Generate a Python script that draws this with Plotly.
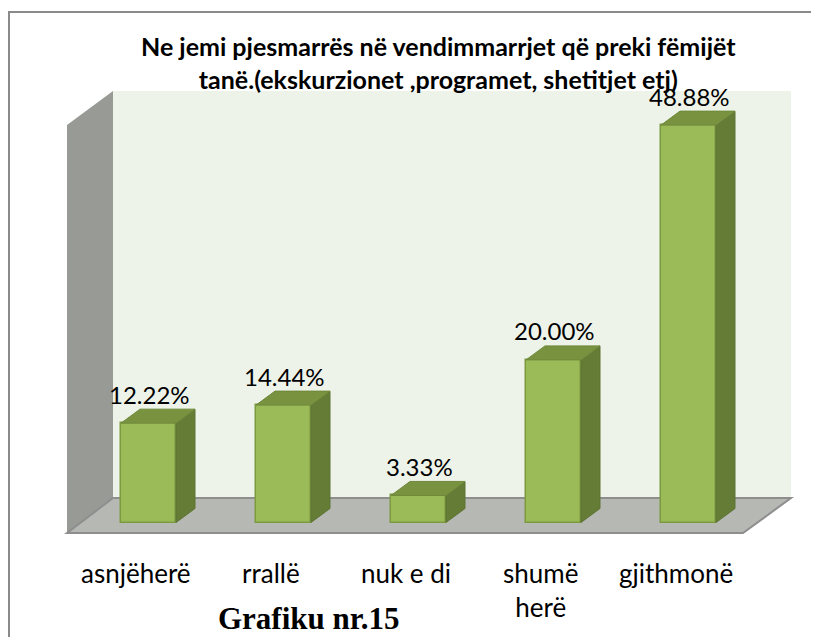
import plotly.graph_objects as go

# ---- data ----
categories = ["asnjëherë", "rrallë", "nuk e di", "shumë<br>herë", "gjithmonë"]
values = [12.22, 14.44, 3.33, 20.00, 48.88]
value_labels = ["12.22%", "14.44%", "3.33%", "20.00%", "48.88%"]
title_text = "Ne jemi pjesmarrës në vendimmarrjet që preki fëmijët<br>tanë.(ekskurzionet ,programet, shetitjet etj)"
caption_text = "Grafiku nr.15"

# ---- layout geometry (target screen pixels) ----
SW, SH = 819, 637
OFF = 8              # page body margin
W, H = SW - OFF, SH - OFF
CAT0_PX = 148.5      # screen x of first category centre
CAT_STEP = 135.0     # pixels per category
ZERO_PY = 522.5      # screen y of value 0
PX_PER_UNIT = 8.13   # pixels per percent

xr0 = -(CAT0_PX - OFF) / CAT_STEP
xr1 = xr0 + W / CAT_STEP
yr0 = -(SH - ZERO_PY) / PX_PER_UNIT
yr1 = yr0 + H / PX_PER_UNIT


def dx(px):
    return px / CAT_STEP


def dy(px):
    return px / PX_PER_UNIT


def X(px):
    return xr0 + (px - OFF) / CAT_STEP


def Y(py):
    return yr0 + (SH - py) / PX_PER_UNIT


def PX(px):
    return (px - OFF) / W


def PY(py):
    return 1 - (py - OFF) / H


bar_w = dx(55)
depth_x = dx(19)
depth_y = dy(14)

FRONT = "#9BBB59"
EDGE = "#7C9A40"
SIDE = "#657C37"
TOP = "#78923F"

fig = go.Figure()

side_x, side_y, top_x, top_y = [], [], [], []
for i, v in enumerate(values):
    xl = i - bar_w / 2
    xr = i + bar_w / 2
    side_x += [xr, xr + depth_x, xr + depth_x, xr, xr, None]
    side_y += [0, depth_y, v + depth_y, v, 0, None]
    top_x += [xl, xr, xr + depth_x, xl + depth_x, xl, None]
    top_y += [v, v, v + depth_y, v + depth_y, v, None]

fig.add_trace(go.Bar(
    x=list(range(len(values))), y=values, width=bar_w,
    marker=dict(color=FRONT, line=dict(color=EDGE, width=1.5)),
    hoverinfo="skip", showlegend=False,
))
fig.add_trace(go.Scatter(
    x=side_x, y=side_y, mode="lines", fill="toself", fillcolor=SIDE,
    line=dict(color="#5E7434", width=1), hoverinfo="skip", showlegend=False,
))
fig.add_trace(go.Scatter(
    x=top_x, y=top_y, mode="lines", fill="toself", fillcolor=TOP,
    line=dict(color="#6F893C", width=1), hoverinfo="skip", showlegend=False,
))


def path(points):
    return "M " + " L ".join(f"{X(a)},{Y(b)}" for a, b in points) + " Z"


shapes = [
    dict(type="path", xref="x", yref="y", layer="below",
         path=path([(113, 91), (791, 91), (791, 498), (113, 498)]),
         fillcolor="#EEF3EA", line=dict(width=0)),
    dict(type="path", xref="x", yref="y", layer="below",
         path=path([(67, 125), (113, 91), (113, 498), (67, 533)]),
         fillcolor="#989A96", line=dict(width=0)),
    dict(type="path", xref="x", yref="y", layer="below",
         path=path([(67, 533), (113, 498), (791, 498), (743, 533)]),
         fillcolor="#B6B8B4", line=dict(color="#8E8E8E", width=2)),
    dict(type="rect", xref="paper", yref="paper",
         x0=PX(9), x1=1.2, y0=-0.2, y1=PY(12),
         line=dict(color="#8A8A8A", width=2), fillcolor="rgba(0,0,0,0)"),
]

annotations = []
for i, (v, lab) in enumerate(zip(values, value_labels)):
    annotations.append(dict(
        x=i, y=v, xref="x", yref="y", text=lab, showarrow=False,
        yanchor="middle", yshift=29, xshift=1,
        font=dict(family="Lato", size=24, color="#000000"),
    ))
for i, c in enumerate(categories):
    annotations.append(dict(
        x=i, y=Y(555), xref="x", yref="y", text=c, showarrow=False,
        yanchor="top", xshift=-13,
        font=dict(family="Lato", size=26, color="#000000"),
    ))
annotations.append(dict(
    x=PX(438), y=PY(63), xref="paper", yref="paper", text=title_text,
    showarrow=False, yanchor="middle",
    font=dict(family="Lato", size=25, color="#000000", weight="bold"),
))
annotations.append(dict(
    x=PX(216), y=PY(618), xref="paper", yref="paper", text=caption_text,
    showarrow=False, yanchor="middle",
    font=dict(family="Liberation Serif", size=31, color="#000000", weight="bold"),
))

fig.update_layout(
    width=W, height=H,
    margin=dict(l=0, r=0, t=0, b=0),
    paper_bgcolor="white", plot_bgcolor="white",
    xaxis=dict(range=[xr0, xr1], visible=False, fixedrange=True),
    yaxis=dict(range=[yr0, yr1], visible=False, fixedrange=True),
    shapes=shapes, annotations=annotations,
    bargap=0, showlegend=False,
)

fig.write_html("out.html")
